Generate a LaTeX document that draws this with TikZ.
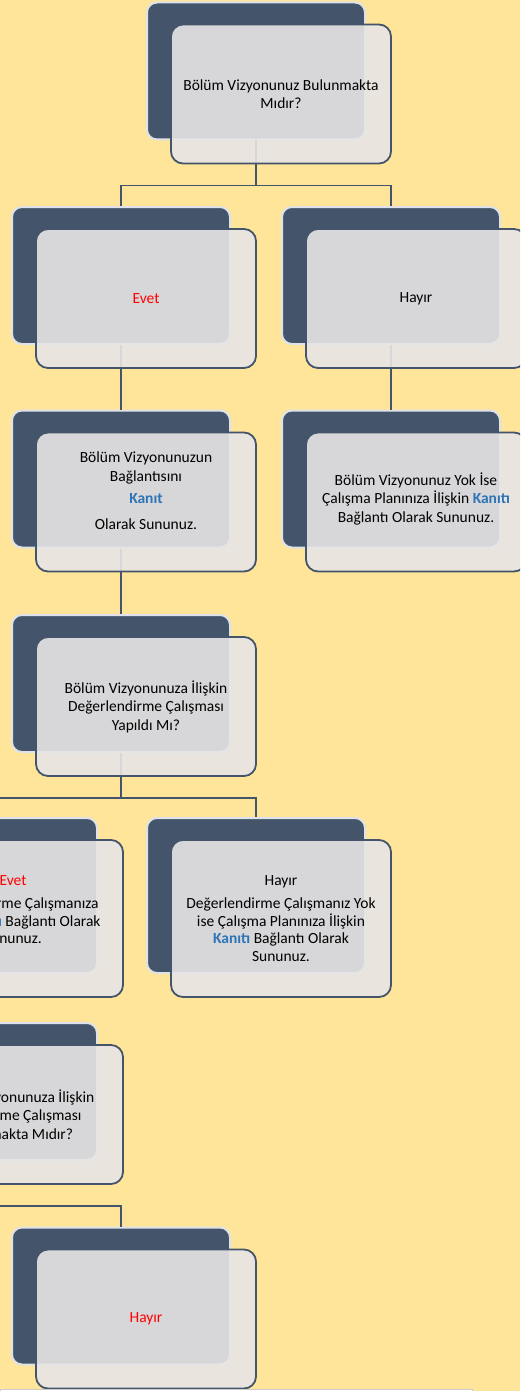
\documentclass[tikz,border=0pt]{standalone}
\usepackage{fontspec}
\setmainfont{Carlito}
\usepackage{tikz}

\definecolor{bgyellow}{HTML}{FFE599}
\definecolor{slate}{HTML}{44546A}
\definecolor{slateedge}{HTML}{DFE2E8}
\definecolor{panel}{HTML}{E7E6E6}
\definecolor{kanitblue}{HTML}{2E75B6}
\newcommand{\kanit}[1]{\textbf{\textcolor{kanitblue}{#1}}}

\tikzset{
  backcard/.style={draw=slateedge, line width=2pt, fill=slate, rounded corners=10pt,
    minimum width=218pt, minimum height=137pt, inner sep=0pt},
  frontcard/.style={draw=slate, line width=1.8pt, fill=panel, fill opacity=0.9, text opacity=1,
    rounded corners=12pt, minimum width=220pt, minimum height=139pt, align=center,
    font=\fontsize{15.5}{18.5}\selectfont},
  tallcard/.style={frontcard, minimum height=157pt, font=\fontsize{15.5}{17.5}\selectfont},
  link/.style={draw=slate, line width=1.8pt}
}

\begin{document}
\begin{tikzpicture}[x=1pt,y=-1pt] %[pixels, y going down]
\fill[bgyellow] (0,0) rectangle (520,1391);
\useasboundingbox (0,0) rectangle (520,1391);
\clip (0,0) rectangle (520,1391);

\foreach \nm/\x/\y/\h in {a/256/71/137, b/121/275.5/137, c/391/275.5/137, d/121/479/137,
  e/391/479/137, f/121/683.5/137, g/-12/895.5/155, h/256/895.5/155, i/-12/1091.5/137,
  j/121/1296/137} {
\node[backcard, minimum height=\h pt] (b\nm) at (\x,\y) {};
}

\draw[link] (ba.south) -- ++(0,45) coordinate (ja);
\draw[link] (ja) -| (bb.north);
\draw[link] (ja) -| (bc.north);
\draw[link] (bb.south) -- (bd.north);
\draw[link] (bc.south) -- (be.north);
\draw[link] (bd.south) -- (bf.north);
\draw[link] (bf.south) -- ++(0,45) coordinate (jf);
\draw[link] (jf) -| (bg.north);
\draw[link] (jf) -| (bh.north);
\draw[link] (bg.south) -- (bi.north);
\draw[link] (bi.south) -- ++(0,45) coordinate (ji);
\draw[link] (ji) -| (bj.north);

\node[frontcard] (fa) at ([shift={(25,23)}]ba.center) {Bölüm Vizyonunuz Bulunmakta\\Mıdır?};
\node[frontcard] (fb) at ([shift={(25,23)}]bb.center) {\textcolor{red}{Evet}};
\node[frontcard] (fc) at ([shift={(25,23)}]bc.center) {Hayır};
\node[frontcard] (fd) at ([shift={(25,23)}]bd.center)
  {Bölüm Vizyonunuzun\\Bağlantısını\\[4pt]\kanit{Kanıt}\\[7pt]Olarak Sununuz.\\[4pt]\mbox{}};
\node[frontcard] (fe) at ([shift={(25,23)}]be.center)
  {\mbox{}\\[-12pt]Bölüm Vizyonunuz Yok İse\\Çalışma Planınıza İlişkin \kanit{Kanıtı}\\Bağlantı Olarak Sununuz.};
\node[frontcard] (ff) at ([shift={(25,23)}]bf.center)
  {Bölüm Vizyonunuza İlişkin\\Değerlendirme Çalışması\\Yapıldı Mı?};
\node[tallcard] (fg) at ([shift={(25,23)}]bg.center)
  {\textcolor{red}{Evet}\\[6pt]Değerlendirme Çalışmanıza\\İlişkin \kanit{Kanıtı} Bağlantı Olarak\\Sununuz.\\\mbox{}};
\node[tallcard] (fh) at ([shift={(25,23)}]bh.center)
  {Hayır\\[6pt]Değerlendirme Çalışmanız Yok\\ise Çalışma Planınıza İlişkin\\\kanit{Kanıtı} Bağlantı Olarak\\Sununuz.};
\node[frontcard] (fi) at ([shift={(25,23)}]bi.center)
  {Bölüm Vizyonunuza İlişkin\\Güncelleme Çalışması\\Bulunmakta Mıdır?};
\node[frontcard] (fj) at ([shift={(25,23)}]bj.center) {\textcolor{red}{Hayır}};

\fill[white, draw=black!20] (0,1389) rectangle (472,1392);
\end{tikzpicture}
\end{document}
